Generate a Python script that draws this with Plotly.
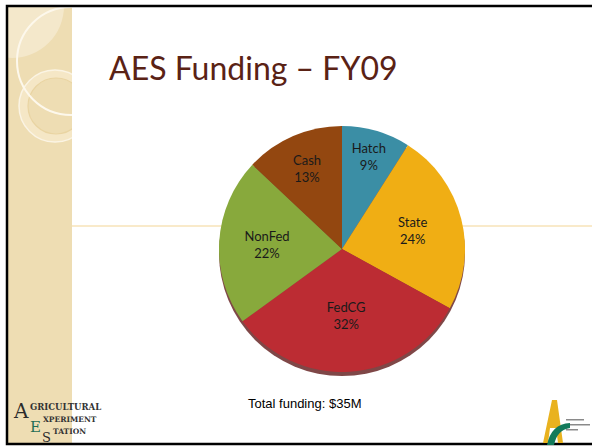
import plotly.graph_objects as go

W, H = 592, 447

# Data
labels = ["Hatch", "State", "FedCG", "NonFed", "Cash"]
values = [9, 24, 32, 22, 13]
colors = ["#3B8EA5", "#F0AE14", "#BC2C33", "#88A93C", "#934710"]

title_text = "AES Funding \u2013 FY09"
note_text = "Total funding: $35M"


def px(x):
    return x / W


def py(y):
    return 1 - y / H


def circle(cx, cy, r, **kw):
    return dict(type="circle", xref="paper", yref="paper", layer="below",
                x0=px(cx - r), x1=px(cx + r), y0=py(cy + r), y1=py(cy - r), **kw)


def rect(x0, y0, x1, y1, **kw):
    return dict(type="rect", xref="paper", yref="paper", layer="below",
                x0=px(x0), x1=px(x1), y0=py(y1), y1=py(y0), **kw)


# pie placement (pixels)
cx, cy, r = 342, 249, 123
dom = dict(x=[px(cx - r), px(cx + r)], y=[py(cy + r), py(cy - r)])
shadow_dom = dict(x=dom["x"], y=[py(cy + r + 4), py(cy - r + 4)])

fig = go.Figure()

# soft shadow under the pie
fig.add_trace(go.Pie(
    values=[1], domain=shadow_dom, sort=False, textinfo="none",
    marker=dict(colors=["rgba(95,25,25,0.8)"], line=dict(width=0)),
    hoverinfo="skip", showlegend=False,
))

fig.add_trace(go.Pie(
    labels=labels, values=values, domain=dom,
    sort=False, direction="clockwise", rotation=0,
    marker=dict(colors=colors, line=dict(width=0)),
    textinfo="label+percent", textposition="inside",
    insidetextorientation="horizontal",
    texttemplate="%{label}<br>%{percent:.0%}",
    textfont=dict(family="Lato", size=13, color="#1a1a1a"),
    showlegend=False,
))

beige = "#EEDDB3"
nofill = "rgba(0,0,0,0)"
shapes = [
    rect(0, 0, W, H, fillcolor="white", line=dict(width=0)),
    rect(8, 6, 72, 444, fillcolor=beige, line=dict(width=0)),
    circle(12, 6, 52, fillcolor="#F4E8CB", line=dict(width=0)),
    circle(55, 106, 36, fillcolor="#F5E7C6", line=dict(color="#FBF4E4", width=1.5)),
    circle(56, 106, 28, fillcolor=beige, line=dict(color="#E9D4A2", width=1.2)),
    circle(71, 61, 54, fillcolor=nofill, line=dict(color="#FDF8EC", width=2)),
    # mask everything outside the strip
    rect(72, 6, W + 5, 444, fillcolor="white", line=dict(width=0)),
    rect(-5, -5, W + 5, 6, fillcolor="white", line=dict(width=0)),
    rect(-5, -5, 7, H + 5, fillcolor="white", line=dict(width=0)),
    rect(-5, 444, W + 5, H + 5, fillcolor="white", line=dict(width=0)),
    dict(type="line", xref="paper", yref="paper", layer="below",
         x0=px(72), x1=1, y0=py(226), y1=py(226),
         line=dict(color="#F3D596", width=1.2)),
    rect(7, 6, W + 10, 444, fillcolor=nofill, line=dict(color="black", width=2.5)),
    # right logo: gold A and green arc
    dict(type="path", xref="paper", yref="paper", layer="above",
         path=f"M {px(543)},{py(443)} L {px(552)},{py(400)} L {px(557)},{py(400)} "
              f"L {px(563)},{py(443)} L {px(558)},{py(443)} L {px(556)},{py(428)} "
              f"L {px(550)},{py(428)} L {px(548)},{py(443)} Z",
         fillcolor="#E9B21F", line=dict(width=0)),
    dict(type="path", xref="paper", yref="paper", layer="above",
         path=f"M {px(547)},{py(445)} Q {px(551)},{py(424)} {px(570)},{py(423)} "
              f"L {px(570)},{py(428)} Q {px(557)},{py(430)} {px(554)},{py(445)} Z",
         fillcolor="#137A5A", line=dict(width=0)),
]
for yy, ww in [(419, 18), (424, 24), (429, 12)]:
    shapes.append(rect(566, yy, 566 + ww, yy + 1.5, fillcolor="#8a8a8a", line=dict(width=0)))


def note(text, x, y, size, color, family="DejaVu Serif"):
    return dict(text=text, x=px(x), y=py(y), xref="paper", yref="paper",
                xanchor="left", yanchor="middle", showarrow=False,
                font=dict(family=family, size=size, color=color))


annotations = [
    note(title_text, 107, 68, 32, "#5A2215", family="Lato"),
    dict(text=note_text, x=px(304), y=py(403), xref="paper", yref="paper",
         xanchor="center", yanchor="middle", showarrow=False,
         font=dict(family="Liberation Sans", size=13, color="black")),
    # left logo
    note("A", 11, 411, 20, "#2b2b2b"),
    note("<b>GRICULTURAL</b>", 28, 407, 8.5, "#333333"),
    note("E", 28, 427, 15, "#1F6E55"),
    note("<b>XPERIMENT</b>", 41, 419, 7.5, "#333333"),
    note("<b>TATION</b>", 51, 431, 7.5, "#333333"),
    note("S", 40, 437, 13, "#2b2b2b"),
]

fig.update_layout(
    width=W, height=H,
    margin=dict(l=0, r=0, t=0, b=0),
    paper_bgcolor="white", plot_bgcolor="white",
    shapes=shapes, annotations=annotations,
    showlegend=False,
)

fig.write_html("out.html", config={"displayModeBar": False},
               post_script="document.body.style.margin='0px';")
